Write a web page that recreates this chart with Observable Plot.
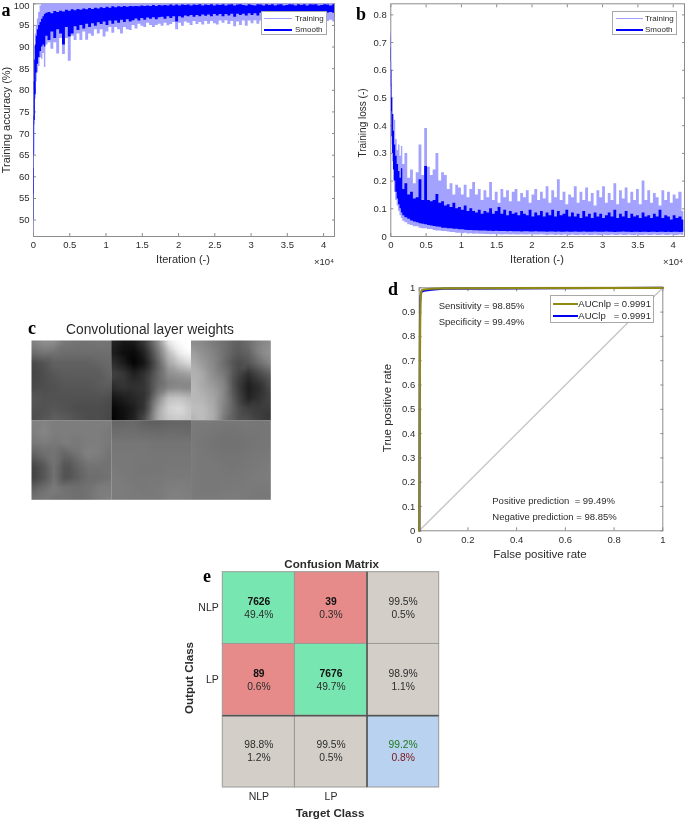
<!DOCTYPE html>
<html>
<head>
<meta charset="utf-8">
<script src="https://cdn.jsdelivr.net/npm/d3@7"></script>
<script src="https://cdn.jsdelivr.net/npm/@observablehq/plot@0.6"></script>
<style>
html,body{margin:0;padding:0;background:#fff;}
#root{position:relative;width:685px;height:820px;overflow:hidden;font-family:"Liberation Sans",Arial,sans-serif;color:#2b2b2b;filter:blur(0.55px);}
#root>svg,#root>div{position:absolute;}
.lab{white-space:pre;line-height:1;}
.legend{background:#fff;border:1px solid #a8a8a8;box-sizing:border-box;}
.legend .row{position:absolute;white-space:pre;line-height:1;}
.legend .sw{position:absolute;}
</style>
</head>
<body>
<div id="root"></div>
<script>
// shared sample iterations (x 10^4)
const iterations = [0,0.004,0.008,0.012,0.02,0.03,0.045,0.06,0.08,0.1,0.12,0.14,0.16,
0.18,0.22,0.26,0.30,0.34,0.38,0.42,0.46,0.50,0.54,
0.58,0.62,0.66,0.70,0.74,0.78,0.82,0.86,0.90,0.94,
0.98,1.02,1.06,1.10,1.14,1.18,1.22,1.26,1.30,1.34,
1.38,1.42,1.46,1.50,1.54,1.58,1.62,1.66,1.70,1.74,
1.78,1.82,1.86,1.90,1.94,1.98,2.02,2.06,2.10,2.14,
2.18,2.22,2.26,2.30,2.34,2.38,2.42,2.46,2.50,2.54,
2.58,2.62,2.66,2.70,2.74,2.78,2.82,2.86,2.90,2.94,
2.98,3.02,3.06,3.10,3.14,3.18,3.22,3.26,3.30,3.34,
3.38,3.42,3.46,3.50,3.54,3.58,3.62,3.66,3.70,3.74,
3.78,3.82,3.86,3.90,3.94,3.98,4.02,4.06,4.10,4.15];

// panel a: training accuracy (%)
const accTrainLow = [46.2,47,58,66,72,78,82,84,85.5,87.5,87.2,88.5,85.3,
90.5,91,89.5,91,88.4,92,88.3,92,86.7,92.5,
91.5,93,91.5,93.5,91.6,93,92.5,94,93,94,
92.3,93.5,94.5,93.2,94.5,94,93,94.5,94,93.8,
95,94.2,95.3,94.8,94.5,95.5,95,94.5,95,95.3,
94.8,95.5,94.9,95.2,95.7,94,95.5,94.8,95.8,95.5,
95,95.9,95.2,95.7,95.1,95.9,95.3,95.9,95.4,95.1,
96,95.5,96.1,95.2,95.9,94.7,95.8,95,96,94.8,
96,95.4,96.1,95.3,96,95.5,95.9,95.2,96.2,95.6,
96.2,95.3,96.3,95.7,96,95.2,96.3,95.7,95.5,96.2,
95.4,96.4,95.8,96.1,95.6,96.4,95.4,95.9,96.2,95.8];
const accTrainHigh = [50,70,80,85,90,93,95,96.5,98,99.5,100,100,100,
100,100,100,100,100,100,100,100,100,100,
100,100,100,100,100,100,100,100,100,100,
100,100,100,100,100,100,100,100,100,100,
100,100,100,100,100,100,100,100,100,100,
100,100,100,100,100,100,100,100,100,100,
100,100,100,100,100,100,100,100,100,100,
100,100,100,100,100,100,100,100,100,100,
100,100,100,100,100,100,100,100,100,100,
100,100,100,100,100,100,100,100,100,100,
100,100,100,100,100,100,100,100,100,100];
const accSmoothLow = [48.5,50,56,65,73,79,84,86,87.5,89,90,90.5,90,
92.5,91.5,93.5,92,94,93,90.5,94.5,92.3,93,
94.7,93.8,95,94.2,95.3,94.5,95.4,94.8,95.6,95.2,
95.8,95,96,95.3,96,95.5,96.2,95.7,96.3,95.8,
96.1,96.5,96,96.6,96.2,96.7,96.4,96.8,96.3,96.8,
96.9,96.4,97,96.6,97,95.8,97,96.7,97.2,97,
97.3,96.9,97.3,97,97.4,97.1,97.4,97,97.5,97.2,
97.5,97,97.5,97.2,97.6,96.9,97.6,97.3,97.6,97.2,
97.7,97.3,97.7,97.2,97.8,97.4,97.7,97.2,97.8,97.5,
97.8,97.3,97.8,97.5,97.9,97.4,97.9,97.6,97.8,97.9,
97.5,98,97.6,98,97.7,98,97.6,97.9,98,97.8];
const accSmoothHigh = [48.5,62,74,82,87,90.5,92.5,94,95,95.7,96.4,97,97.5,
97.8,98,97.7,98.2,98,98.3,98.1,98.5,98.3,98.6,
98.4,98.7,98.5,98.8,98.6,98.9,98.7,99,98.8,99.1,
98.9,99.2,99,99.3,99.1,99.3,99.2,99.4,99.2,99.4,
99.3,99.4,99.3,99.5,99.4,99.5,99.4,99.6,99.4,99.6,
99.5,99.6,99.5,99.7,99.5,99.7,99.5,99.7,99.6,99.7,
99.5,99.7,99.6,99.8,99.5,99.7,99.6,99.8,99.5,99.7,
99.6,99.8,99.5,99.7,99.8,99.5,99.7,99.8,99.6,99.5,
99.8,99.6,99.5,99.8,99.7,99.5,99.8,99.6,99.8,99.5,
99.7,99.8,99.5,99.6,99.8,99.7,99.5,99.8,99.6,99.8,
99.5,99.8,99.7,99.8,99.5,99.6,99.8,99.7,99.5,99.8];

// panel b: training loss
const lossTrainHigh = [.76,.74,.7,.63,.55,.5,.44,.42,.35,.31,.33,.29,.325,
.26,.30,.21,.24,.19,.23,.33,.22,.39,.25,
.22,.24,.30,.20,.23,.22,.17,.19,.15,.185,
.175,.15,.185,.14,.17,.195,.15,.17,.13,.165,
.14,.195,.13,.16,.12,.17,.14,.165,.125,.16,
.17,.125,.155,.14,.165,.12,.15,.17,.13,.16,
.135,.18,.12,.165,.14,.205,.13,.16,.115,.15,
.14,.18,.12,.16,.13,.175,.125,.155,.11,.165,
.14,.18,.12,.155,.13,.19,.115,.165,.135,.175,
.12,.16,.13,.17,.115,.2,.13,.165,.12,.155,
.14,.11,.165,.13,.16,.12,.15,.135,.16,.09];
const lossTrainLow = [.70,.6,.5,.42,.33,.27,.2,.16,.13,.11,.09,.075,.065,
.055,.05,.042,.04,.035,.035,.03,.028,.028,.025,
.025,.022,.02,.02,.018,.018,.016,.014,.014,.012,
.012,.01,.012,.009,.01,.008,.009,.008,.008,.007,
.007,.006,.007,.006,.006,.005,.006,.006,.005,.006,
.005,.005,.006,.005,.005,.006,.005,.005,.005,.006,
.005,.004,.005,.005,.004,.005,.004,.005,.005,.004,
.005,.004,.004,.005,.004,.005,.004,.004,.005,.004,
.004,.005,.004,.004,.005,.004,.004,.005,.004,.004,
.005,.004,.004,.005,.004,.004,.005,.004,.004,.005,
.004,.004,.005,.004,.004,.005,.004,.004,.005,.004];
const lossSmoothHigh = [.735,.72,.68,.6,.5,.44,.38,.33,.29,.26,.235,.21,.245,
.17,.19,.15,.16,.135,.14,.205,.13,.253,.13,
.125,.13,.152,.12,.125,.11,.115,.105,.12,.10,
.105,.095,.11,.09,.1,.09,.085,.095,.08,.09,
.085,.10,.08,.09,.105,.08,.095,.075,.09,.08,
.085,.075,.09,.08,.075,.095,.07,.085,.075,.09,
.07,.085,.075,.095,.07,.09,.075,.08,.095,.07,
.085,.07,.08,.065,.09,.07,.08,.065,.085,.07,
.08,.065,.075,.085,.07,.095,.065,.08,.07,.09,
.065,.08,.07,.075,.065,.085,.07,.075,.065,.08,
.07,.095,.065,.075,.07,.06,.075,.065,.07,.06];
const lossSmoothLow = [.72,.63,.54,.45,.36,.3,.24,.2,.16,.135,.115,.1,.085,
.075,.068,.062,.056,.052,.05,.046,.044,.042,.04,
.038,.036,.034,.033,.03,.03,.028,.028,.026,.026,
.024,.024,.023,.022,.022,.021,.021,.02,.02,.02,
.019,.019,.018,.019,.018,.018,.018,.017,.018,.017,
.017,.017,.016,.017,.017,.016,.016,.017,.016,.016,
.016,.015,.016,.016,.015,.016,.015,.015,.016,.015,
.015,.016,.015,.015,.016,.015,.015,.015,.016,.015,
.015,.015,.016,.015,.015,.014,.015,.015,.016,.015,
.015,.014,.015,.015,.014,.015,.015,.014,.015,.015,
.014,.015,.015,.014,.015,.014,.015,.015,.014,.015];

// panel c: convolutional weight tiles, 8x8 grey levels
const tileA = [130,145,145,120,115,115,120,115, 110,120,115,110,110,110,110,110, 72,82,97,97,97,97,102,107, 67,77,87,92,92,92,92,102, 72,77,82,87,87,87,92,92, 87,82,82,82,82,82,82,77, 82,82,87,82,77,77,77,72, 77,87,97,92,82,77,77,70];
const tileB = [40,25,30,65,135,235,255,255, 30,15,10,40,110,190,240,255, 50,30,5,25,90,165,200,220, 70,60,35,55,100,140,150,160, 45,55,50,55,105,125,130,130, 20,30,40,50,130,190,195,180, 5,15,30,55,160,210,220,195, 0,15,35,80,165,195,200,190];
const tileC = [140,135,120,110,95,110,130,140, 160,145,130,110,90,100,135,150, 175,155,135,105,75,85,110,135, 180,170,140,120,70,45,70,95, 185,170,155,130,65,30,45,80, 185,180,165,130,75,35,50,70, 190,190,170,125,85,65,60,60, 175,190,170,110,85,80,65,55];
const tileD = [130,130,125,125,125,125,125,125, 125,135,125,125,125,125,125,120, 120,125,120,125,120,125,125,120, 95,110,115,100,115,130,125,115, 65,85,115,80,100,115,115,115, 62,85,115,78,95,110,110,115, 95,110,125,115,110,115,125,125, 115,120,115,115,110,115,125,130];
const tileE = [100,100,105,95,92,98,100,100, 108,110,110,108,106,108,108,106, 118,118,118,118,116,116,116,116, 120,120,120,120,118,118,118,118, 122,120,120,118,118,120,120,120, 124,122,120,120,120,122,122,122, 124,124,122,120,122,126,128,124, 124,124,122,122,122,128,130,126];
const tileF = [122,122,122,120,120,120,118,120, 122,120,118,116,116,118,118,118, 122,118,116,114,114,116,118,118, 124,120,118,116,116,118,120,122, 124,120,120,118,118,120,122,124, 122,120,120,120,120,122,124,124, 122,120,120,122,122,122,122,122, 124,122,122,124,124,122,120,120];
const tileList = [tileA, tileB, tileC, tileD, tileE, tileF];

// panel d: ROC curves
const rocFpr = [0.001,0.002,0.003,0.004,0.005,0.007,0.01,0.02,0.05,0.1,1];
const rocNlp = [0,0.3,0.7,0.86,0.94,0.975,0.99,0.993,0.996,0.998,1];
const rocLp  = [0,0.5,0.85,0.93,0.96,0.975,0.984,0.988,0.992,0.996,1];
const rocBase = [0,1];
const rocNotes = ["Sensitivity = 98.85%","Specificity = 99.49%","Positive prediction  = 99.49%","Negative prediction = 98.85%"];
const rocNoteX = [0.08,0.08,0.30,0.30];
const rocNoteY = [0.924,0.861,0.122,0.055];

// panel e: confusion matrix
const classNames = ["NLP","LP"];
const matrixFill = ["#78e6b0","#e68a8a","#d3cfc8","#e68a8a","#78e6b0","#d3cfc8","#d3cfc8","#d3cfc8","#b9d2f0"];
const matrixCounts = ["7626","39",null,"89","7676",null,null,null,null];
const matrixTop = [null,null,"99.5%",null,null,"98.9%","98.8%","99.5%","99.2%"];
const matrixBottom = ["49.4%","0.3%","0.5%","0.6%","49.7%","1.1%","1.2%","0.5%","0.8%"];

const root = document.getElementById("root");
const FONT = '"Liberation Sans",Arial,sans-serif';
const LIGHT = "#a3a3ff", DARK = "#0000ff", FRAME = "#8c8c8c", INK = "#2b2b2b", OLIVE = "#8f8a14";

function place(node, left, top){ node.style.left = left+"px"; node.style.top = top+"px"; root.appendChild(node); }
function label(text, cx, cy, o={}){
  const d = document.createElement("div");
  d.className = "lab"; d.textContent = text;
  d.style.fontSize = (o.size||12)+"px";
  d.style.fontWeight = o.bold?"bold":"normal";
  if(o.family) d.style.fontFamily = o.family;
  d.style.transform = `translate(-50%,-50%)${o.rotate?` rotate(${o.rotate}deg)`:""}`;
  place(d,cx,cy);
}
function letter(t,cx,cy){ label(t,cx,cy,{size:18,bold:true,family:'"Liberation Serif",serif'}); d3.select(root.lastChild).style("color","#000"); }
function legend(left,top,width,height,size,rows,swX,swW,txtX){
  const b = document.createElement("div"); b.className="legend";
  b.style.width=width+"px"; b.style.height=height+"px"; b.style.fontSize=size+"px";
  rows.forEach(r=>{
    const s=document.createElement("div"); s.className="sw";
    s.style.cssText+=`left:${swX}px;width:${swW}px;top:${r.y-r.w/2}px;height:${r.w}px;background:${r.c}`;
    b.appendChild(s);
    const t=document.createElement("div"); t.className="row"; t.textContent=r.t;
    t.style.left=txtX+"px"; t.style.top=(r.y-size/2)+"px"; b.appendChild(t);
  });
  place(b,left,top);
}
function axes(xTicks,yTicks,xFmt,yFmt,yEdge=[]){
  const tick={tickSize:-3,stroke:FRAME,tickFormat:()=>"",label:null};
  const allY=[...yTicks,...yEdge];
  const yAxis={anchor:"left",tickSize:0,tickPadding:4,tickFormat:yFmt,label:null,color:INK};
  return [
    Plot.frame({stroke:FRAME}),
    Plot.axisX(xTicks,{...tick,anchor:"bottom"}),
    Plot.axisX(xTicks,{...tick,anchor:"top"}),
    Plot.axisY(allY,{...tick,anchor:"left"}),
    Plot.axisY(allY,{...tick,anchor:"right"}),
    Plot.axisX(xTicks,{anchor:"bottom",tickSize:0,tickPadding:5,tickFormat:xFmt,label:null,color:INK}),
    Plot.axisY(yTicks,yAxis),
    ...(yEdge.length?[Plot.axisY(yEdge,{...yAxis,dy:1.8})]:[])
  ];
}
const styleOf = size => ({fontFamily:FONT,fontSize:size+"px",background:"transparent",overflow:"visible",color:INK});
const iterTicks = [0,0.5,1,1.5,2,2.5,3,3.5,4];
const plain = d=>String(d);
const bandCurve = "step";

// ---- a
const rowsA = iterations.map((x,i)=>({x,tl:accTrainLow[i],th:accTrainHigh[i],sl:accSmoothLow[i],sh:accSmoothHigh[i]}));
place(Plot.plot({
  width:340,height:270,marginLeft:33,marginRight:6,marginTop:3.3,marginBottom:34,
  style:styleOf(9.5),
  x:{domain:[0,4.15]},y:{domain:[46.2,100]},
  marks:[
    ...axes(iterTicks,[50,55,60,65,70,75,80,85,90,95],plain,plain,[100]),
    Plot.areaY(rowsA,{x:"x",y1:"tl",y2:"th",fill:LIGHT,clip:true,curve:bandCurve}),
    Plot.areaY(rowsA,{x:"x",y1:"sl",y2:"sh",fill:DARK,clip:true,curve:bandCurve})
  ]
}),0,0);
label("Iteration (-)",183,259,{size:11});
label("Training accuracy (%)",6,120,{size:11,rotate:-90});
label("\u00d710\u2074",324,262,{size:9.5});
letter("a",6,10);
legend(261,11,66,24,8,[{t:"Training",y:6.5,w:1,c:LIGHT},{t:"Smooth",y:17.5,w:2,c:DARK}],2,28,33);

// ---- b
const rowsB = iterations.map((x,i)=>({x,tl:lossTrainLow[i],th:lossTrainHigh[i],sl:lossSmoothLow[i],sh:lossSmoothHigh[i]}));
place(Plot.plot({
  width:340,height:270,marginLeft:45.3,marginRight:1,marginTop:3.3,marginBottom:34,
  style:styleOf(9.5),
  x:{domain:[0,4.16]},y:{domain:[0,0.84]},
  marks:[
    ...axes(iterTicks,[0,.1,.2,.3,.4,.5,.6,.7,.8],plain,plain),
    Plot.areaY(rowsB,{x:"x",y1:"tl",y2:"th",fill:LIGHT,clip:true,curve:bandCurve}),
    Plot.areaY(rowsB,{x:"x",y1:"sl",y2:"sh",fill:DARK,clip:true,curve:bandCurve})
  ]
}),345,0);
label("Iteration (-)",537,259,{size:11});
label("Training loss (-)",363,123,{size:10,rotate:-90});
label("\u00d710\u2074",673,262,{size:9.5});
letter("b",361,14);
legend(612,11,65,24,8,[{t:"Training",y:6.5,w:1,c:LIGHT},{t:"Smooth",y:17.5,w:2,c:DARK}],3,27,32);

// ---- c
const rasters = tileList.map((tile,t)=>{
  const col=t%3,row=Math.floor(t/3);
  const pts=tile.map((g,i)=>({x:col+(i%8)/7,y:row+Math.floor(i/8)/7,g}));
  return Plot.raster(pts,{x:"x",y:"y",fill:"g",x1:col,x2:col+1,y1:row,y2:row+1,interpolate:"barycentric",pixelSize:5});
});
place(Plot.plot({
  width:239.3,height:159.3,margin:0,
  x:{domain:[0,3],axis:null},y:{domain:[2,0],axis:null},
  color:{type:"linear",domain:[0,255],range:["#000","#fff"]},
  style:styleOf(10),
  marks:rasters
}),30.7,340);
label("Convolutional layer weights",150,330,{size:13.8});
letter("c",32,328);

// ---- d
const rocRows = rocFpr.map((x,i)=>({x,nlp:rocNlp[i],lp:rocLp[i]}));
place(Plot.plot({
  width:310,height:275,marginLeft:43.7,marginRight:22.7,marginTop:12.3,marginBottom:19.7,
  style:styleOf(9.5),
  x:{domain:[0,1]},y:{domain:[0,1]},
  marks:[
    ...axes([0,.2,.4,.6,.8,1],[0,.1,.2,.3,.4,.5,.6,.7,.8,.9,1],plain,plain),
    Plot.line(rocBase,{x:d=>d,y:d=>d,stroke:"#c8c8c8",strokeWidth:1.5}),
    Plot.line(rocRows,{x:"x",y:"lp",stroke:"#0000f0",strokeWidth:2}),
    Plot.line(rocRows,{x:"x",y:"nlp",stroke:OLIVE,strokeWidth:2.2}),
    Plot.text(rocNotes,{x:(d,i)=>rocNoteX[i],y:(d,i)=>rocNoteY[i],text:d=>d,textAnchor:"start",fill:INK,fontSize:9.5})
  ]
}),375,275);
label("False positive rate",540,555,{size:11.5});
label("True positive rate",388,408,{size:11.5,rotate:-90});
letter("d",393,289);
legend(550.3,295,104,27.7,9.5,[{t:"AUCnlp = 0.9991",y:8,w:2,c:OLIVE},{t:"AUClp   = 0.9991",y:19.5,w:2,c:"#0000f0"}],2,25,27);

// ---- e
const cells = matrixFill.map((fill,i)=>({c:i%3,r:Math.floor(i/3),fill,count:matrixCounts[i],top:matrixTop[i],bottom:matrixBottom[i],i}));
const topTone = d=>d.i===8?"#1d7a1d":INK, botTone = d=>d.i===8?"#7a1414":INK;
place(Plot.plot({
  width:290,height:250,marginLeft:52.3,marginRight:21.3,marginTop:11.7,marginBottom:23,
  style:styleOf(10.5),
  x:{domain:[0,3]},y:{domain:[3,0]},
  marks:[
    Plot.rect(cells,{x1:"c",x2:d=>d.c+1,y1:"r",y2:d=>d.r+1,fill:"fill",stroke:"#9a9a96",strokeWidth:1}),
    Plot.ruleX([2],{stroke:"#555",strokeWidth:1.6}),
    Plot.ruleY([2],{stroke:"#555",strokeWidth:1.6}),
    Plot.axisX([.5,1.5],{anchor:"bottom",tickSize:0,tickPadding:5,tickFormat:d=>classNames[Math.floor(d)],label:null,color:INK}),
    Plot.axisY([.5,1.5],{anchor:"left",tickSize:0,tickPadding:4,tickFormat:d=>classNames[Math.floor(d)],label:null,color:INK}),
    Plot.text(cells.filter(d=>d.count),{x:d=>d.c+.5,y:d=>d.r+.41,text:"count",fontWeight:"bold",fontSize:10.3,fill:"#111"}),
    Plot.text(cells.filter(d=>d.top),{x:d=>d.c+.5,y:d=>d.r+.41,text:"top",fontSize:10.3,fill:topTone,fontWeight:d=>d.i===8?"bold":"normal"}),
    Plot.text(cells,{x:d=>d.c+.5,y:d=>d.r+.59,text:"bottom",fontSize:10.3,fill:botTone,fontWeight:d=>d.i===8?"bold":"normal"})
  ]
}),170,560);
label("Confusion Matrix",331.7,564,{size:11.6,bold:true});
label("Target Class",330,813,{size:11.6,bold:true});
label("Output Class",189,678,{size:11.6,bold:true,rotate:-90});
letter("e",207,576);
</script>
</body>
</html>
